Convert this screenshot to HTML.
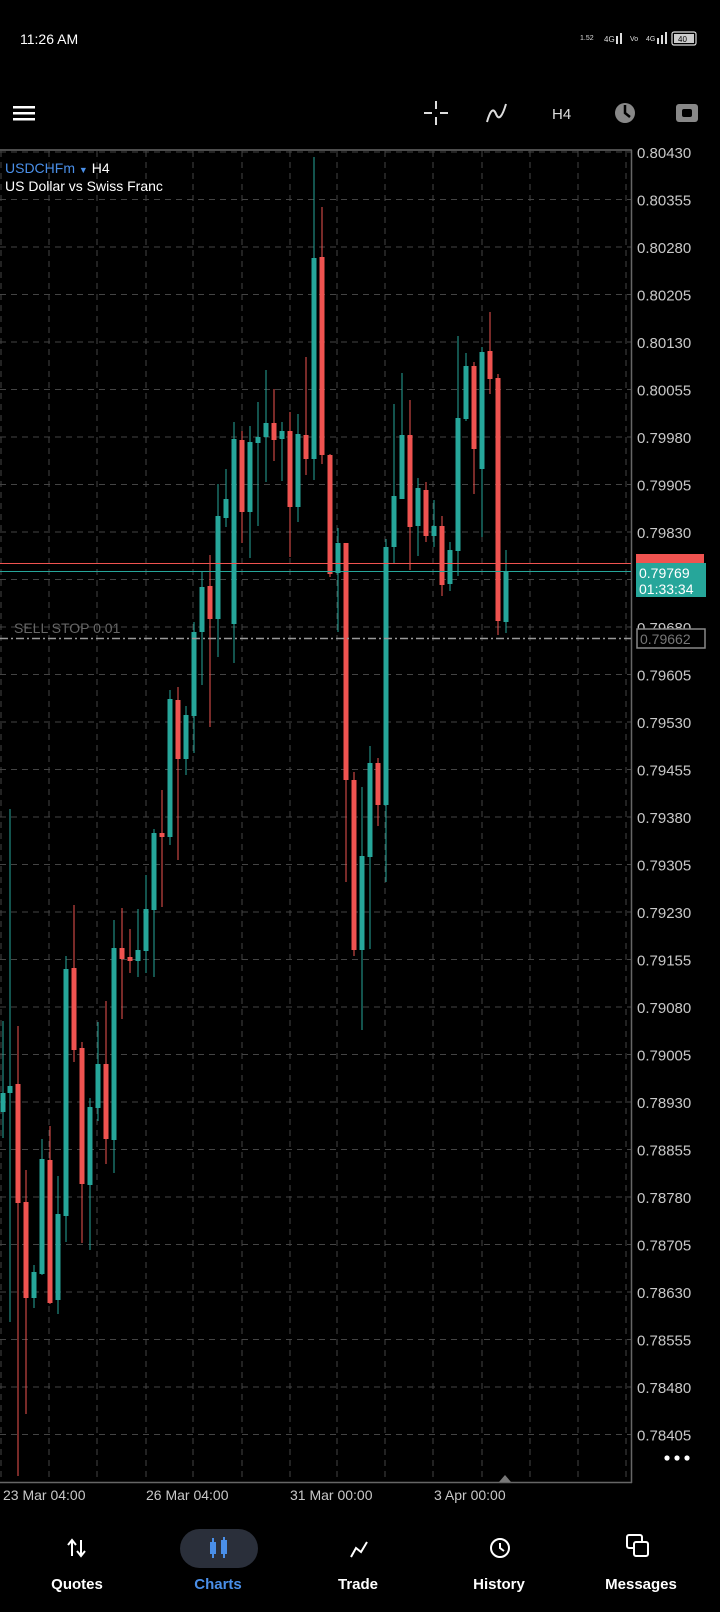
<!DOCTYPE html>
<html><head><meta charset="utf-8"><style>
html,body{margin:0;padding:0;background:#000;}
body{width:720px;height:1612px;overflow:hidden;position:relative;font-family:"Liberation Sans",sans-serif;}
svg{position:absolute;left:0;top:0;}
</style></head><body>
<svg width="720" height="1612" viewBox="0 0 720 1612" xmlns="http://www.w3.org/2000/svg" font-family="Liberation Sans, sans-serif">
<rect width="720" height="1612" fill="#000"/>
<!-- status bar -->
<text x="20" y="44" fill="#fff" font-size="14">11:26 AM</text>
<text x="580" y="40" fill="#ddd" font-size="7">1.52</text>
<text x="604" y="42" fill="#ddd" font-size="8">4G</text>
<rect x="616" y="36" width="2" height="8" fill="#ddd"/><rect x="620" y="33" width="2" height="11" fill="#ddd"/>
<text x="630" y="41" fill="#ddd" font-size="7">Vo</text>
<text x="646" y="41" fill="#ddd" font-size="7">4G</text>
<rect x="657" y="38" width="2" height="6" fill="#ddd"/><rect x="661" y="35" width="2" height="9" fill="#ddd"/><rect x="665" y="32" width="2" height="12" fill="#ddd"/>
<rect x="672" y="32" width="24" height="13" rx="2" fill="none" stroke="#ddd" stroke-width="1.2"/>
<rect x="674" y="34" width="20" height="9" fill="#ccc"/>
<text x="678" y="42" fill="#000" font-size="8">40</text>
<!-- toolbar -->
<rect x="13" y="106" width="22" height="2.5" fill="#fff"/><rect x="13" y="112" width="22" height="2.5" fill="#fff"/><rect x="13" y="118" width="22" height="2.5" fill="#fff"/>
<g stroke="#ddd" stroke-width="2"><line x1="436" y1="101" x2="436" y2="109"/><line x1="436" y1="117" x2="436" y2="125"/><line x1="424" y1="113" x2="432" y2="113"/><line x1="440" y1="113" x2="448" y2="113"/></g>
<path d="M487 122 Q492 104 496 114 T506 104" stroke="#ddd" stroke-width="2" fill="none"/>
<text x="552" y="119" fill="#ddd" font-size="15">H4</text>
<circle cx="625" cy="113" r="10" fill="#888"/><path d="M625 105 L625 113 L630 117" stroke="#000" stroke-width="2.5" fill="none"/>
<rect x="676" y="104" width="22" height="18" rx="3" fill="#888"/><rect x="682" y="109" width="10" height="8" rx="2" fill="#000"/>
<!-- grid -->
<g stroke="#444" stroke-width="1" stroke-dasharray="6,5">
<line x1="0" y1="152" x2="631" y2="152"/><line x1="0" y1="199.5" x2="631" y2="199.5"/><line x1="0" y1="247" x2="631" y2="247"/><line x1="0" y1="294.5" x2="631" y2="294.5"/><line x1="0" y1="342" x2="631" y2="342"/><line x1="0" y1="389.5" x2="631" y2="389.5"/><line x1="0" y1="437" x2="631" y2="437"/><line x1="0" y1="484.5" x2="631" y2="484.5"/><line x1="0" y1="532" x2="631" y2="532"/><line x1="0" y1="579.5" x2="631" y2="579.5"/><line x1="0" y1="627" x2="631" y2="627"/><line x1="0" y1="674.5" x2="631" y2="674.5"/><line x1="0" y1="722" x2="631" y2="722"/><line x1="0" y1="769.5" x2="631" y2="769.5"/><line x1="0" y1="817" x2="631" y2="817"/><line x1="0" y1="864.5" x2="631" y2="864.5"/><line x1="0" y1="912" x2="631" y2="912"/><line x1="0" y1="959.5" x2="631" y2="959.5"/><line x1="0" y1="1007" x2="631" y2="1007"/><line x1="0" y1="1054.5" x2="631" y2="1054.5"/><line x1="0" y1="1102" x2="631" y2="1102"/><line x1="0" y1="1149.5" x2="631" y2="1149.5"/><line x1="0" y1="1197" x2="631" y2="1197"/><line x1="0" y1="1244.5" x2="631" y2="1244.5"/><line x1="0" y1="1292" x2="631" y2="1292"/><line x1="0" y1="1339.5" x2="631" y2="1339.5"/><line x1="0" y1="1387" x2="631" y2="1387"/><line x1="0" y1="1434.5" x2="631" y2="1434.5"/>
<line x1="1" y1="151" x2="1" y2="1482"/><line x1="49" y1="151" x2="49" y2="1482"/><line x1="97" y1="151" x2="97" y2="1482"/><line x1="146" y1="151" x2="146" y2="1482"/><line x1="193" y1="151" x2="193" y2="1482"/><line x1="242" y1="151" x2="242" y2="1482"/><line x1="290" y1="151" x2="290" y2="1482"/><line x1="337" y1="151" x2="337" y2="1482"/><line x1="385" y1="151" x2="385" y2="1482"/><line x1="433" y1="151" x2="433" y2="1482"/><line x1="482" y1="151" x2="482" y2="1482"/><line x1="530" y1="151" x2="530" y2="1482"/><line x1="578" y1="151" x2="578" y2="1482"/><line x1="626" y1="151" x2="626" y2="1482"/>
</g>
<g stroke="#666" stroke-width="1.5" fill="none"><line x1="0" y1="150" x2="632" y2="150"/><line x1="631.5" y1="150" x2="631.5" y2="1483"/><line x1="0" y1="1482.5" x2="632" y2="1482.5"/></g>
<!-- price labels -->
<g fill="#c8c8c8" font-size="15">
<text x="637" y="158">0.80430</text><text x="637" y="205.5">0.80355</text><text x="637" y="253">0.80280</text><text x="637" y="300.5">0.80205</text><text x="637" y="348">0.80130</text><text x="637" y="395.5">0.80055</text><text x="637" y="443">0.79980</text><text x="637" y="490.5">0.79905</text><text x="637" y="538">0.79830</text><text x="637" y="633">0.79680</text><text x="637" y="680.5">0.79605</text><text x="637" y="728">0.79530</text><text x="637" y="775.5">0.79455</text><text x="637" y="823">0.79380</text><text x="637" y="870.5">0.79305</text><text x="637" y="918">0.79230</text><text x="637" y="965.5">0.79155</text><text x="637" y="1013">0.79080</text><text x="637" y="1060.5">0.79005</text><text x="637" y="1108">0.78930</text><text x="637" y="1155.5">0.78855</text><text x="637" y="1203">0.78780</text><text x="637" y="1250.5">0.78705</text><text x="637" y="1298">0.78630</text><text x="637" y="1345.5">0.78555</text><text x="637" y="1393">0.78480</text><text x="637" y="1440.5">0.78405</text>
</g>
<!-- header text -->
<text x="5" y="173" font-size="14" fill="#4a8fe8">USDCHFm <tspan fill="#4a8fe8" font-size="9">▼</tspan> <tspan fill="#fff">H4</tspan></text>
<text x="5" y="191" font-size="14" fill="#fff">US Dollar vs Swiss Franc</text>
<!-- candles -->
<g id="c"></g>
<g fill="#26a69a">
<rect x="2.5" y="1021" width="1" height="117"/><rect x="0.5" y="1093" width="5" height="19"/>
<rect x="9.5" y="809" width="1" height="513"/><rect x="7.5" y="1086" width="5" height="7"/>
<rect x="33.5" y="1265" width="1" height="43"/><rect x="31.5" y="1272" width="5" height="26"/>
<rect x="41.5" y="1139" width="1" height="136"/><rect x="39.5" y="1159" width="5" height="115"/>
<rect x="57.5" y="1176" width="1" height="138"/><rect x="55.5" y="1214" width="5" height="86"/>
<rect x="65.5" y="956" width="1" height="286"/><rect x="63.5" y="969" width="5" height="247"/>
<rect x="89.5" y="1098" width="1" height="152"/><rect x="87.5" y="1107" width="5" height="78"/>
<rect x="97.5" y="1022" width="1" height="99"/><rect x="95.5" y="1064" width="5" height="44"/>
<rect x="113.5" y="920" width="1" height="253"/><rect x="111.5" y="948" width="5" height="192"/>
<rect x="137.5" y="909" width="1" height="68"/><rect x="135.5" y="950" width="5" height="11"/>
<rect x="145.5" y="875" width="1" height="98"/><rect x="143.5" y="909" width="5" height="42"/>
<rect x="153.5" y="829" width="1" height="148"/><rect x="151.5" y="833" width="5" height="77"/>
<rect x="169.5" y="690" width="1" height="155"/><rect x="167.5" y="699" width="5" height="138"/>
<rect x="185.5" y="706" width="1" height="69"/><rect x="183.5" y="715" width="5" height="44"/>
<rect x="193.5" y="622" width="1" height="131"/><rect x="191.5" y="632" width="5" height="84"/>
<rect x="201.5" y="572" width="1" height="113"/><rect x="199.5" y="587" width="5" height="45"/>
<rect x="217.5" y="484" width="1" height="173"/><rect x="215.5" y="516" width="5" height="103"/>
<rect x="225.5" y="469" width="1" height="58"/><rect x="223.5" y="499" width="5" height="19"/>
<rect x="233.5" y="422" width="1" height="241"/><rect x="231.5" y="439" width="5" height="185"/>
<rect x="249.5" y="426" width="1" height="132"/><rect x="247.5" y="442" width="5" height="70"/>
<rect x="257.5" y="402" width="1" height="124"/><rect x="255.5" y="437" width="5" height="6"/>
<rect x="265.5" y="370" width="1" height="112"/><rect x="263.5" y="423" width="5" height="14"/>
<rect x="281.5" y="422" width="1" height="59"/><rect x="279.5" y="431" width="5" height="8"/>
<rect x="297.5" y="414" width="1" height="108"/><rect x="295.5" y="434" width="5" height="73"/>
<rect x="313.5" y="157" width="1" height="323"/><rect x="311.5" y="258" width="5" height="201"/>
<rect x="337.5" y="528" width="1" height="104"/><rect x="335.5" y="543" width="5" height="30"/>
<rect x="361.5" y="787" width="1" height="243"/><rect x="359.5" y="856" width="5" height="94"/>
<rect x="369.5" y="746" width="1" height="203"/><rect x="367.5" y="763" width="5" height="94"/>
<rect x="385.5" y="539" width="1" height="343"/><rect x="383.5" y="547" width="5" height="258"/>
<rect x="393.5" y="404" width="1" height="160"/><rect x="391.5" y="496" width="5" height="51"/>
<rect x="401.5" y="373" width="1" height="126"/><rect x="399.5" y="435" width="5" height="64"/>
<rect x="417.5" y="478" width="1" height="78"/><rect x="415.5" y="488" width="5" height="38"/>
<rect x="433.5" y="500" width="1" height="47"/><rect x="431.5" y="526" width="5" height="10"/>
<rect x="449.5" y="542" width="1" height="49"/><rect x="447.5" y="550" width="5" height="34"/>
<rect x="457.5" y="336" width="1" height="240"/><rect x="455.5" y="418" width="5" height="133"/>
<rect x="465.5" y="353" width="1" height="68"/><rect x="463.5" y="366" width="5" height="53"/>
<rect x="481.5" y="347" width="1" height="190"/><rect x="479.5" y="352" width="5" height="117"/>
<rect x="505.5" y="550" width="1" height="83"/><rect x="503.5" y="572" width="5" height="50"/>
</g>
<g fill="#ef5350">
<rect x="17.5" y="1026" width="1" height="450"/><rect x="15.5" y="1084" width="5" height="119"/>
<rect x="25.5" y="1170" width="1" height="244"/><rect x="23.5" y="1202" width="5" height="96"/>
<rect x="49.5" y="1126" width="1" height="178"/><rect x="47.5" y="1160" width="5" height="143"/>
<rect x="73.5" y="905" width="1" height="157"/><rect x="71.5" y="968" width="5" height="82"/>
<rect x="81.5" y="1042" width="1" height="201"/><rect x="79.5" y="1048" width="5" height="136"/>
<rect x="105.5" y="1001" width="1" height="163"/><rect x="103.5" y="1064" width="5" height="75"/>
<rect x="121.5" y="908" width="1" height="111"/><rect x="119.5" y="948" width="5" height="11"/>
<rect x="129.5" y="929" width="1" height="44"/><rect x="127.5" y="957" width="5" height="4"/>
<rect x="161.5" y="790" width="1" height="117"/><rect x="159.5" y="833" width="5" height="4"/>
<rect x="177.5" y="687" width="1" height="173"/><rect x="175.5" y="700" width="5" height="59"/>
<rect x="209.5" y="555" width="1" height="172"/><rect x="207.5" y="586" width="5" height="33"/>
<rect x="241.5" y="431" width="1" height="112"/><rect x="239.5" y="440" width="5" height="72"/>
<rect x="273.5" y="389" width="1" height="72"/><rect x="271.5" y="423" width="5" height="17"/>
<rect x="289.5" y="412" width="1" height="145"/><rect x="287.5" y="431" width="5" height="76"/>
<rect x="305.5" y="357" width="1" height="118"/><rect x="303.5" y="435" width="5" height="24"/>
<rect x="321.5" y="207" width="1" height="257"/><rect x="319.5" y="257" width="5" height="198"/>
<rect x="329.5" y="454" width="1" height="123"/><rect x="327.5" y="455" width="5" height="119"/>
<rect x="345.5" y="543" width="1" height="339"/><rect x="343.5" y="543" width="5" height="237"/>
<rect x="353.5" y="772" width="1" height="184"/><rect x="351.5" y="780" width="5" height="170"/>
<rect x="377.5" y="758" width="1" height="68"/><rect x="375.5" y="763" width="5" height="42"/>
<rect x="409.5" y="400" width="1" height="170"/><rect x="407.5" y="435" width="5" height="92"/>
<rect x="425.5" y="482" width="1" height="60"/><rect x="423.5" y="490" width="5" height="46"/>
<rect x="441.5" y="516" width="1" height="80"/><rect x="439.5" y="526" width="5" height="59"/>
<rect x="473.5" y="362" width="1" height="132"/><rect x="471.5" y="366" width="5" height="83"/>
<rect x="489.5" y="312" width="1" height="82"/><rect x="487.5" y="351" width="5" height="28"/>
<rect x="497.5" y="374" width="1" height="261"/><rect x="495.5" y="378" width="5" height="243"/>
</g>
<!-- price lines -->
<line x1="0" y1="563.5" x2="631" y2="563.5" stroke="#ef5350" stroke-width="1"/>
<line x1="0" y1="571.5" x2="631" y2="571.5" stroke="#26a69a" stroke-width="1"/>
<line x1="0" y1="638.5" x2="631" y2="638.5" stroke="#999" stroke-width="1.5" stroke-dasharray="8,3,2,3"/>
<text x="14" y="633" fill="#666" font-size="14">SELL STOP 0.01</text>
<!-- labels on axis -->
<rect x="636" y="554" width="68" height="10" fill="#ef5350"/>
<rect x="636" y="563" width="70" height="34" fill="#26a69a"/>
<text x="639" y="578" fill="#fff" font-size="14">0.79769</text>
<text x="639" y="594" fill="#fff" font-size="14">01:33:34</text>
<rect x="637" y="629" width="68" height="19" fill="#000" stroke="#888" stroke-width="1.5"/>
<text x="640" y="644" fill="#777" font-size="14">0.79662</text>
<!-- dots & triangle -->
<circle cx="667" cy="1458" r="2.6" fill="#fff"/><circle cx="677" cy="1458" r="2.6" fill="#fff"/><circle cx="687" cy="1458" r="2.6" fill="#fff"/>
<path d="M499 1482 L505 1475 L511 1482 Z" fill="#777"/>
<!-- x labels -->
<g fill="#c8c8c8" font-size="14">
<text x="3" y="1500">23 Mar 04:00</text><text x="146" y="1500">26 Mar 04:00</text><text x="290" y="1500">31 Mar 00:00</text><text x="434" y="1500">3 Apr 00:00</text>
</g>
<!-- bottom nav -->
<rect x="180" y="1529" width="78" height="39" rx="19.5" fill="#2a2f3a"/>
<g stroke="#fff" stroke-width="2" fill="none">
<path d="M72 1556 V1541 M68 1545 L72 1540 L76 1545"/><path d="M81 1540 V1555 M77 1551 L81 1556 L85 1551"/>
<path d="M351 1557 L356 1548 L361 1552 L367 1542"/>
<circle cx="500" cy="1548" r="9"/><path d="M500 1543 V1548 L504 1551"/>
<rect x="627" y="1535" width="15" height="13" rx="2"/><rect x="634" y="1542" width="14" height="14" rx="2" fill="#000"/>
</g>
<g stroke="#4a8fe8" stroke-width="2" fill="none"><rect x="211" y="1543" width="4" height="10"/><rect x="222" y="1541" width="4" height="12"/><line x1="213" y1="1538" x2="213" y2="1558"/><line x1="224" y1="1537" x2="224" y2="1558"/></g>
<g font-size="15" font-weight="bold" text-anchor="middle" fill="#fff">
<text x="77" y="1589">Quotes</text><text x="218" y="1589" fill="#4a8fe8">Charts</text><text x="358" y="1589">Trade</text><text x="499" y="1589">History</text><text x="641" y="1589">Messages</text>
</g>
</svg>
</body></html>
